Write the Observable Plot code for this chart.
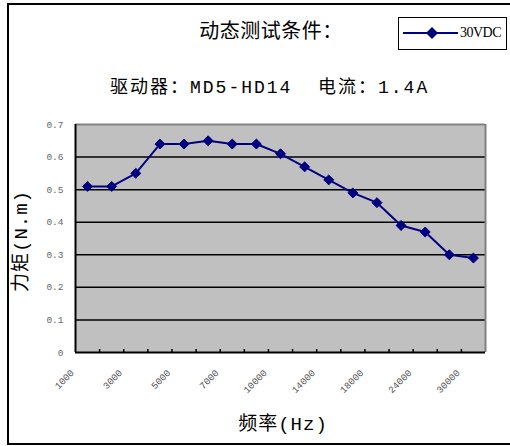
<!DOCTYPE html>
<html><head><meta charset="utf-8">
<script src="https://cdn.jsdelivr.net/npm/d3@7"></script>
<script src="https://cdn.jsdelivr.net/npm/@observablehq/plot@0.6"></script>
<style>
body{margin:0;background:#fff;}
#wrap{position:relative;width:510px;height:446px;overflow:hidden;font-family:"Liberation Mono","Noto Sans CJK SC",monospace;color:#000;}
.abs{position:absolute;white-space:pre;}
#chart{position:absolute;left:0;top:0;}
</style></head><body>
<div id="wrap">
  <div id="chart"></div>
  <div class="abs" style="left:7px;top:3px;width:520px;height:438px;border:2px solid #000;"></div>
  <div id="title" class="abs" style="left:0;width:542px;top:21px;line-height:24px;font-size:20px;letter-spacing:0.5px;text-align:center;"></div>
  <div id="subtitle" class="abs" style="left:110px;top:76px;line-height:24px;font-size:18px;letter-spacing:2px;"></div>
  <div id="xlabel" class="abs" style="left:0;width:566px;top:413px;line-height:24px;font-size:19px;letter-spacing:1px;text-align:center;"></div>
  <div id="ylabel" class="abs" style="left:22px;top:241px;line-height:24px;font-size:19px;letter-spacing:1px;transform:translate(-50%,-50%) rotate(-90deg);"></div>
  <div class="abs" style="left:398px;top:17px;width:107px;height:31px;border:1.5px solid #000;"></div>
  <svg class="abs" style="left:400px;top:24px;" width="60" height="20">
    <line x1="3" y1="9" x2="58" y2="9" stroke="#000080" stroke-width="2"/>
    <path d="M32,3 L38,9 L32,15 L26,9 Z" fill="#000080"/>
  </svg>
  <div id="legendText" class="abs" style="left:460px;top:23px;line-height:20px;font-size:14px;letter-spacing:-0.5px;font-family:'Liberation Serif',serif;"></div>
</div>
<script>
const titleText = "动态测试条件：";
const subtitleText = "驱动器：MD5-HD14  电流：1.4A";
const seriesName = "30VDC";
const yLabelText = "力矩(N.m)";
const xLabelText = "频率(Hz)";
const frequencies = [1000, 2000, 3000, 4000, 5000, 6000, 7000, 8000, 10000, 12000, 14000, 16000, 18000, 21000, 24000, 27000, 30000];
const torque = [0.51, 0.51, 0.55, 0.64, 0.64, 0.65, 0.64, 0.64, 0.61, 0.57, 0.53, 0.49, 0.46, 0.39, 0.37, 0.30, 0.29];
const yTicks = [0, 0.1, 0.2, 0.3, 0.4, 0.5, 0.6, 0.7];
const labelStep = 2;

document.getElementById("title").textContent = titleText;
document.getElementById("subtitle").textContent = subtitleText;
document.getElementById("xlabel").textContent = xLabelText;
document.getElementById("ylabel").textContent = yLabelText;
document.getElementById("legendText").textContent = seriesName;

const n = frequencies.length;
const data = frequencies.map((f, i) => ({i, f, v: torque[i]}));
const labelIdx = d3.range(0, n, labelStep);
const boundaries = d3.range(1, n).map(i => i - 0.5);
const yMax = d3.max(yTicks);
const W = 510, H = 446, mT = 124, mB = 94;
const plotH = H - mT - mB;

const chart = Plot.plot({
  width: W, height: H,
  marginLeft: 75, marginRight: 25, marginTop: mT, marginBottom: mB,
  style: {fontFamily: "Liberation Mono, monospace", fontSize: "9px", background: "transparent"},
  x: {domain: [-0.5, n - 0.5], axis: null},
  y: {domain: [0, yMax]},
  marks: [
    Plot.frame({fill: "#C0C0C0", stroke: null}),
    Plot.ruleY(yTicks.filter(d => d > 0 && d < yMax), {stroke: "#000", strokeWidth: 1.5}),
    Plot.ruleY([yMax], {stroke: "#808080", strokeWidth: 2}),
    Plot.ruleX([n - 0.5], {stroke: "#808080", strokeWidth: 2}),
    Plot.ruleX([-0.5], {stroke: "#000", strokeWidth: 2}),
    Plot.ruleY([0], {stroke: "#000", strokeWidth: 2}),
    Plot.tickX(boundaries, {x: d => d, stroke: "#000", strokeWidth: 1.5, insetTop: plotH - 3}),
    Plot.line(data, {x: "i", y: "v", stroke: "#000080", strokeWidth: 2}),
    Plot.dot(data, {x: "i", y: "v", symbol: "diamond2", r: 4.5, fill: "#000080", stroke: "#000080", strokeWidth: 1}),
    Plot.text(labelIdx, {x: d => d, text: d => String(frequencies[d]), frameAnchor: "bottom", rotate: -45, textAnchor: "end", dx: -13, dy: 21, fontSize: 9.5, fill: "#555", style: "letter-spacing:0.8px"}),
    Plot.axisY(yTicks, {tickSize: 0, tickPadding: 12, label: null, fill: "#666", fontSize: 9.5, tickFormat: d => d === 0 ? "0" : d.toFixed(1)})
  ]
});
document.getElementById("chart").appendChild(chart);
</script>
</body></html>
